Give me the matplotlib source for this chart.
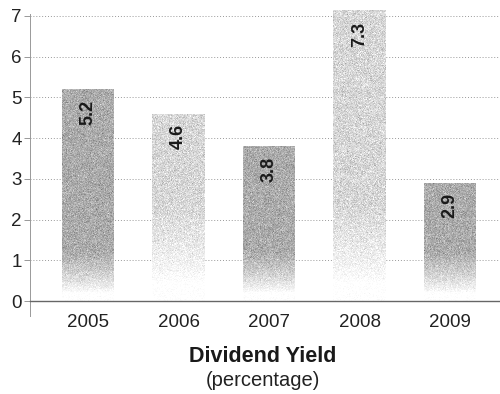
import numpy as np
import matplotlib
matplotlib.use("Agg")
import matplotlib.pyplot as plt

years = ["2005", "2006", "2007", "2008", "2009"]
yields = [5.2, 4.6, 3.8, 7.3, 2.9]
shades = ["dark", "light", "dark", "light", "dark"]

plt.rcParams["font.family"] = ["Liberation Sans", "DejaVu Sans"]

fig = plt.figure(figsize=(5.0, 3.94), dpi=100)
ax = fig.add_axes([0.06, 0.236, 0.94, 0.739])

x = np.arange(len(years))
bars = ax.bar(x, yields, width=0.58, color="none", zorder=2)

# grey level at the top of each bar and where the fade to white happens
top_grey = {"dark": 0.67, "light": 0.84}
fade = {"dark": (0.2, 1.2), "light": (0.45, 2.4)}
rng = np.random.default_rng(7)

for bar, shade, val in zip(bars, shades, yields):
    x0 = bar.get_x()
    x1 = x0 + bar.get_width()
    ny, nx = int(val * 41), 53
    yy = np.linspace(0, val, ny).reshape(-1, 1)
    lo, hi = fade[shade]
    f = np.clip((yy - lo) / (hi - lo), 0, 1) ** 0.8
    f = np.repeat(f, nx, axis=1)
    # stippled print texture
    grain = rng.normal(0, 0.06, (ny, nx))
    lvl = 1 - (1 - top_grey[shade]) * f + grain * np.sqrt(f + 0.05)
    lvl = np.clip(lvl, 0.45, 1)
    im = ax.imshow(lvl, cmap="gray", vmin=0, vmax=1, origin="lower",
                   aspect="auto", interpolation="nearest",
                   extent=(x0, x1, 0, val), zorder=2)
    # clip to the bar outline while keeping the axes clip box
    im.set_clip_path(bar.get_path(), bar.get_transform())
    ax.text(bar.get_x() + bar.get_width() / 2, min(val, 7.1) - 0.25,
            f"{val}", rotation=90, ha="center", va="top", fontsize=13,
            fontweight="bold", color="#1a1a1a", zorder=3)

ax.set_xlim(-0.64, 4.55)
ax.set_ylim(0, 7.15)
ax.set_yticks(range(8))
ax.set_xticks(x)
ax.set_xticklabels(years)
ax.tick_params(axis="both", labelsize=13.5, colors="#222222")
ax.tick_params(axis="x", length=0, pad=9)
ax.tick_params(axis="y", length=4, width=0.6, color="#888888", pad=2)

ax.grid(axis="y", linestyle=(0, (1, 2)), color="#999999", lw=0.7, zorder=0)
for side in ["top", "right"]:
    ax.spines[side].set_visible(False)
ax.spines["left"].set_color("#999999")
ax.spines["left"].set_linewidth(0.7)
ax.spines["left"].set_bounds(-0.38, 7.05)
ax.spines["bottom"].set_color("#666666")
ax.spines["bottom"].set_linewidth(1.0)

fig.text(0.525, 0.08, "Dividend Yield", ha="center", fontsize=15.5,
         fontweight="bold", color="#1a1a1a")
fig.text(0.525, 0.02, "(percentage)", ha="center", fontsize=14.5,
         color="#222222")

fig.savefig("out.png", dpi=100)
